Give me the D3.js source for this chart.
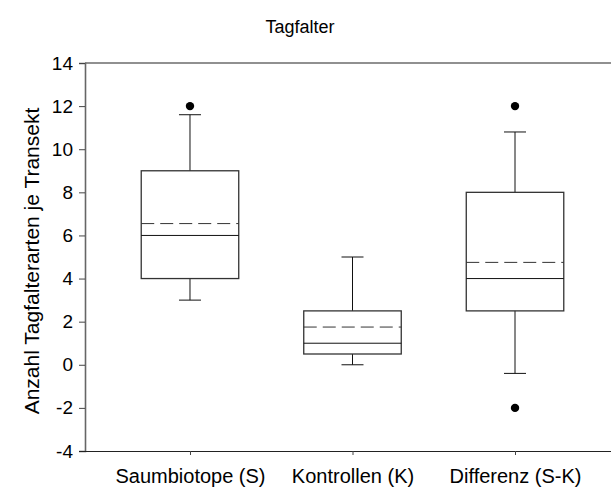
<!DOCTYPE html>
<html>
<head>
<meta charset="utf-8">
<script src="https://cdn.jsdelivr.net/npm/d3@7"></script>
<style>
  body { margin: 0; background: #fff; overflow: hidden; }
  svg { display: block; }
  text { font-family: "Liberation Sans", Arial, sans-serif; fill: #000; }
</style>
</head>
<body>
<div id="chart"></div>
<script>
const categories = ["Saumbiotope (S)", "Kontrollen (K)", "Differenz (S-K)"]
const whiskerLow = [3, 0, -0.4]
const q1 = [4, 0.5, 2.5]
const median = [6, 1, 4]
const q3 = [9, 2.5, 8]
const whiskerHigh = [11.6, 5, 10.8]
const means = [6.55, 1.75, 4.75]
const outliers = [[12], [], [12, -2]]
const yTicks = [-4, -2, 0, 2, 4, 6, 8, 10, 12, 14]

const width = 611, height = 491
const margin = {top: 63, right: -9, bottom: 40, left: 85}
const w = width - margin.left - margin.right,
	h = height - margin.top - margin.bottom

const svg = d3.select("#chart")
	.append("svg")
	.attr("width", width)
	.attr("height", height)

const g = svg.append("g")
	.attr("transform", `translate(${margin.left},${margin.top})`)

const x = d3.scalePoint()
	.domain(categories)
	.range([0, w])
	.padding(0.646)

const y = d3.scaleLinear()
	.domain([-4, 14])
	.range([h, 0])

const step = x.step()
const boxW = step * 0.6
const capW = 22

// frame: top line, left axis, bottom axis
g.append("line")
	.attr("x1", 0).attr("x2", w)
	.attr("y1", 0).attr("y2", 0)
	.attr("stroke", "#222").attr("stroke-width", 1.2)

const yAxis = g.append("g")
	.call(d3.axisLeft(y).tickValues(yTicks).tickSize(6).tickPadding(6)
		.tickFormat(d => String(d)))
yAxis.select(".domain").attr("stroke", "#666").attr("stroke-width", 1.6)
yAxis.selectAll(".tick line").attr("stroke", "#444")
yAxis.selectAll(".tick text")
	.style("font-size", "19px")

const xAxis = g.append("g")
	.attr("transform", `translate(0,${h})`)
	.call(d3.axisBottom(x).tickSize(4).tickPadding(14).tickSizeOuter(0))
xAxis.select(".domain").attr("stroke", "#222").attr("stroke-width", 1.2)
	.attr("d", `M-6,0.5H${w}`)
xAxis.selectAll(".tick line").attr("stroke", "#444")
xAxis.selectAll(".tick text")
	.style("font-size", "20px")

const data = categories.map((c, i) => ({
	cat: c, lo: whiskerLow[i], q1: q1[i], med: median[i], q3: q3[i],
	hi: whiskerHigh[i], mean: means[i], out: outliers[i]
}))

const boxes = g.selectAll(".box")
	.data(data)
	.enter().append("g")
	.attr("class", "box")
	.attr("transform", d => `translate(${x(d.cat)},0)`)

// whiskers
boxes.append("line")
	.attr("x1", 0).attr("x2", 0)
	.attr("y1", d => y(d.q3)).attr("y2", d => y(d.hi))
	.attr("stroke", "#111")
boxes.append("line")
	.attr("x1", 0).attr("x2", 0)
	.attr("y1", d => y(d.q1)).attr("y2", d => y(d.lo))
	.attr("stroke", "#111")
boxes.append("line")
	.attr("x1", -capW / 2).attr("x2", capW / 2)
	.attr("y1", d => y(d.hi)).attr("y2", d => y(d.hi))
	.attr("stroke", "#111")
boxes.append("line")
	.attr("x1", -capW / 2).attr("x2", capW / 2)
	.attr("y1", d => y(d.lo)).attr("y2", d => y(d.lo))
	.attr("stroke", "#111")

boxes.append("rect")
	.attr("x", -boxW / 2)
	.attr("width", boxW)
	.attr("y", d => y(d.q3))
	.attr("height", d => y(d.q1) - y(d.q3))
	.attr("fill", "none")
	.attr("stroke", "#333")
	.attr("stroke-width", 1.3)

boxes.append("line")
	.attr("x1", -boxW / 2).attr("x2", boxW / 2)
	.attr("y1", d => y(d.med)).attr("y2", d => y(d.med))
	.attr("stroke", "#111")

boxes.append("line")
	.attr("x1", -boxW / 2).attr("x2", boxW / 2)
	.attr("y1", d => y(d.mean)).attr("y2", d => y(d.mean))
	.attr("stroke", "#333")
	.attr("stroke-dasharray", "13,6")

boxes.selectAll("circle")
	.data(d => d.out)
	.enter().append("circle")
	.attr("cx", 0)
	.attr("cy", d => y(d))
	.attr("r", 4.2)
	.attr("fill", "#000")

svg.append("text")
	.attr("x", 300)
	.attr("y", 33)
	.attr("text-anchor", "middle")
	.style("font-size", "18px")
	.text("Tagfalter")

svg.append("text")
	.attr("transform", `translate(39,${margin.top + h / 2 + 4}) rotate(-90)`)
	.attr("text-anchor", "middle")
	.style("font-size", "21px")
	.text("Anzahl Tagfalterarten je Transekt")
</script>
</body>
</html>
